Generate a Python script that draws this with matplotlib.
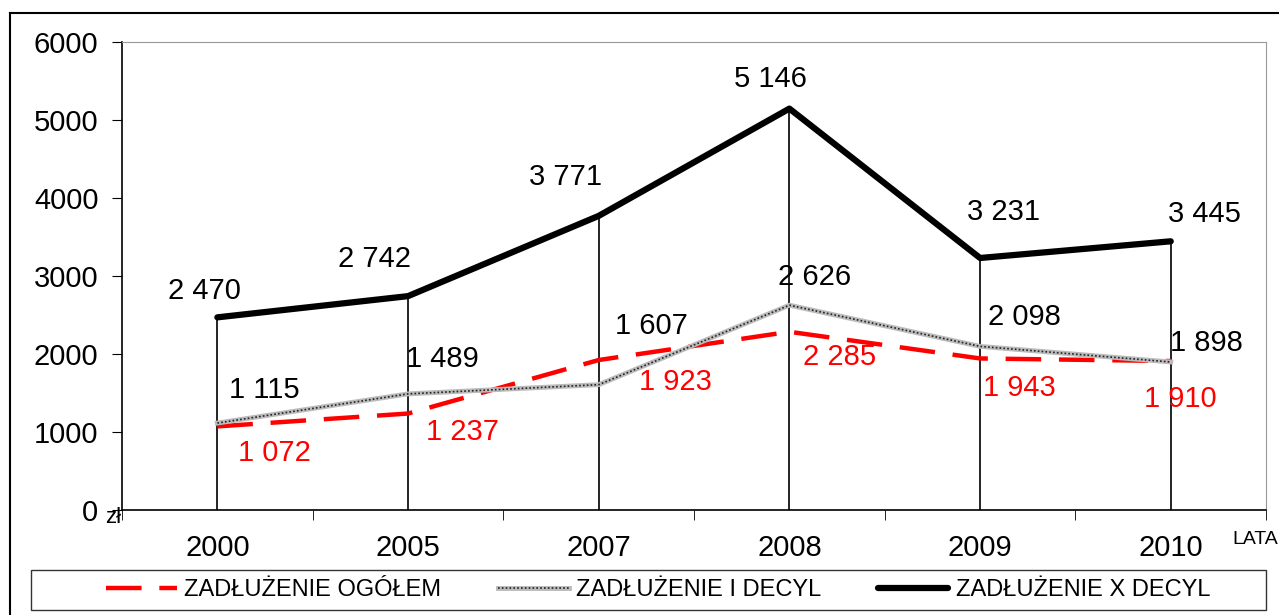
import matplotlib.pyplot as plt
from matplotlib.lines import Line2D
from matplotlib.patches import Rectangle

plt.rcParams['font.family'] = ['Liberation Sans', 'DejaVu Sans']

years = ["2000", "2005", "2007", "2008", "2009", "2010"]
ogolem = [1072, 1237, 1923, 2285, 1943, 1910]
decyl_1 = [1115, 1489, 1607, 2626, 2098, 1898]
decyl_10 = [2470, 2742, 3771, 5146, 3231, 3445]

# przesunięcia etykiet (w punktach)
off_10 = [(-9, 19), (-24, 27), (-24, 28), (-14, 21), (17, 33), (24, 20)]
off_1 = [(34, 24), (25, 25), (38, 42), (18, 20), (32, 21), (26, 14)]
off_og = [(41, -19), (39, -13), (55, -16), (36, -18), (28, -21), (7, -27)]

def fmt(v):
    return f"{v:,}".replace(",", " ")

fig = plt.figure(figsize=(12.79, 6.15), dpi=100)
ax = fig.add_axes([0.0954, 0.1707, 0.8945, 0.7610])

x = list(range(len(years)))

# pionowe linie od X decyla do zera
ax.vlines(x, 0, decyl_10, color="black", lw=1.2, zorder=1)

l_og, = ax.plot(x, ogolem, color="#ff0000", lw=3.2, dashes=(8, 4), zorder=2)
l_d1a, = ax.plot(x, decyl_1, color="#bbbbbb", lw=3.5, zorder=3)
l_d1b, = ax.plot(x, decyl_1, color="#222222", lw=1.2, linestyle=(0, (1, 1.3)), zorder=3)
l_d10, = ax.plot(x, decyl_10, color="black", lw=4.5, solid_capstyle="round", zorder=4)

for i in x:
    ax.annotate(fmt(decyl_10[i]), (i, decyl_10[i]), xytext=off_10[i],
                textcoords="offset points", ha="center", va="center", fontsize=21)
    ax.annotate(fmt(decyl_1[i]), (i, decyl_1[i]), xytext=off_1[i],
                textcoords="offset points", ha="center", va="center", fontsize=21)
    ax.annotate(fmt(ogolem[i]), (i, ogolem[i]), xytext=off_og[i],
                textcoords="offset points", ha="center", va="center", fontsize=21,
                color="#ff0000")

ax.set_xlim(-0.5, len(years) - 0.5)
ax.set_ylim(0, 6000)
ax.set_yticks(range(0, 6001, 1000))
ax.tick_params(axis="y", labelsize=21, length=7, direction="out", pad=10)
ax.set_xticks(x)
ax.set_xticklabels(years)
ax.set_xticks([i - 0.5 for i in range(len(years) + 1)], minor=True)
ax.tick_params(axis="x", which="major", length=0, labelsize=21, pad=17)
ax.tick_params(axis="x", which="minor", length=7, direction="out")

ax.spines["top"].set_color("#999999")
ax.spines["right"].set_color("#999999")
ax.spines["left"].set_linewidth(1.2)
ax.spines["bottom"].set_linewidth(1.2)

fig.text(0.082, 0.158, "zł", fontsize=16, ha="left", va="center")
fig.text(0.9995, 0.122, "LATA", fontsize=14, ha="right", va="center")

# ramka legendy
fig.add_artist(Rectangle((0.024, 0.008), 0.966, 0.065, transform=fig.transFigure,
                         fill=False, edgecolor="#333333", lw=1.0))
leg = fig.legend([l_og, (l_d1a, l_d1b), l_d10],
                 ["ZADŁUŻENIE OGÓŁEM", "ZADŁUŻENIE I DECYL", "ZADŁUŻENIE X DECYL"],
                 loc="center", bbox_to_anchor=(0.5145, 0.041), ncol=3, fontsize=17,
                 frameon=False, handlelength=3.0, handletextpad=0.3,
                 columnspacing=2.4, borderaxespad=0)

# zewnętrzna ramka
fig.add_artist(Line2D([0.008, 0.008], [0, 0.979], color="black", lw=1.5))
fig.add_artist(Line2D([0.008, 1], [0.979, 0.979], color="black", lw=1.5))

plt.savefig("out.png", dpi=100)
